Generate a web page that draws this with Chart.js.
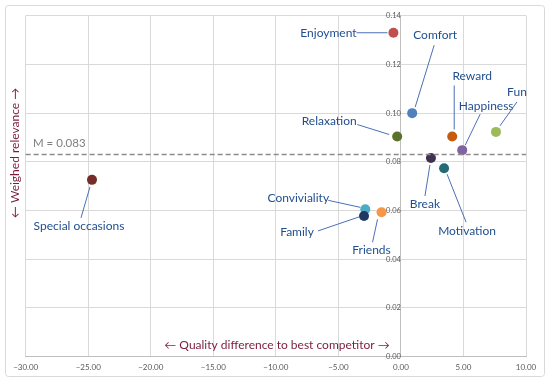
<!DOCTYPE html>
<html>
<head>
<meta charset="utf-8">
<script src="https://cdn.jsdelivr.net/npm/chart.js@4.4.1/dist/chart.umd.min.js"></script>
<style>
  html, body { margin: 0; padding: 0; background: #fff; }
  #wrap { width: 550px; height: 382px; }
</style>
</head>
<body>
<div id="wrap"><canvas id="drivers" width="550" height="382"></canvas></div>
<script>
// values
const categories = ["Enjoyment", "Comfort", "Reward", "Happiness", "Fun", "Relaxation",
  "Break", "Motivation", "Conviviality", "Family", "Friends", "Special occasions"];
const qualityDiff = [-0.6, 0.9, 4.1, 4.9, 7.6, -0.3, 2.4, 3.45, -2.85, -2.95, -1.55, -24.7];
const relevance = [0.133, 0.100, 0.0904, 0.0848, 0.0923, 0.0904, 0.0816, 0.0774, 0.0605, 0.0578, 0.0593, 0.0726];
const meanRelevance = 0.083;
const meanLabel = "M = 0.083";
const xTitle = "\u2190 Quality difference to best competitor \u2192";
const yTitle = "\u2190 Weighed relevance \u2192";

const pointColors = ["#c0504d", "#4f81bd", "#c55a11", "#8064a2", "#9bbb59", "#5a7229",
  "#403152", "#236a75", "#4bacc6", "#1f3864", "#f79646", "#772c2a"];

// label placement relative to each point: text centre, leader start, leader end (px)
const labelPos = [
  [-65, 0, -37, 0, -6, 0],
  [23, -78, 22, -68, 3, -6],
  [20, -60, 2, -51, 2, -7],
  [24, -44, 18, -36, 3, -5],
  [21, -40, 21, -30, 4, -6],
  [-68, -15, -40, -12, -8, -2],
  [-6, 46, -1, 7, -6, 38],
  [23, 63, 3, 6, 22, 54],
  [-67, -11, -37, -9, -5, -2],
  [-67, 16, -46, 15, -5, 1],
  [-10, 38, -4, 7, -9, 30],
  [-13, 46, -2, 7, -11, 38]
];

const minus = v => (v < 0 ? "\u2212" : "") + Math.abs(v).toFixed(2);

const decorations = {
  id: "decorations",
  beforeDraw(chart) {
    const ctx = chart.ctx;
    ctx.save();
    ctx.strokeStyle = "#d9d9d9";
    ctx.lineWidth = 1;
    ctx.beginPath();
    ctx.roundRect(5.5, 5.5, 539, 371, 3);
    ctx.stroke();
    ctx.restore();
  },
  afterDatasetsDraw(chart) {
    const ctx = chart.ctx;
    const area = chart.chartArea;
    const ys = chart.scales.y;
    ctx.save();

    // mean line
    const my = ys.getPixelForValue(meanRelevance);
    ctx.strokeStyle = "#8c8c8c";
    ctx.lineWidth = 1.5;
    ctx.setLineDash([5, 3]);
    ctx.beginPath();
    ctx.moveTo(area.left, my);
    ctx.lineTo(area.right, my);
    ctx.stroke();
    ctx.setLineDash([]);
    ctx.fillStyle = "#7f7f7f";
    ctx.font = "11.5px Lato";
    ctx.textAlign = "left";
    ctx.textBaseline = "middle";
    ctx.fillText(meanLabel, 33, my - 11);

    // point labels and leaders
    const meta = chart.getDatasetMeta(0);
    ctx.font = "12px Lato";
    ctx.textAlign = "center";
    meta.data.forEach((pt, i) => {
      const p = labelPos[i];
      ctx.strokeStyle = "#4a6fb5";
      ctx.lineWidth = 1;
      ctx.beginPath();
      ctx.moveTo(pt.x + p[2], pt.y + p[3]);
      ctx.lineTo(pt.x + p[4], pt.y + p[5]);
      ctx.stroke();
      ctx.fillStyle = "#1f4e8f";
      ctx.fillText(categories[i], pt.x + p[0], pt.y + p[1]);
    });

    // axis titles
    ctx.fillStyle = "#7b1c3e";
    ctx.font = "12px Lato";
    ctx.fillText(xTitle, 277, 345);
    ctx.translate(15, 153);
    ctx.rotate(-Math.PI / 2);
    ctx.fillText(yTitle, 0, 0);
    ctx.restore();
  }
};

new Chart(document.getElementById("drivers"), {
  type: "scatter",
  data: {
    datasets: [{
      data: qualityDiff.map((x, i) => ({ x, y: relevance[i] })),
      backgroundColor: pointColors,
      borderWidth: 0,
      pointRadius: 5,
      pointHoverRadius: 5
    }]
  },
  options: {
    responsive: false,
    animation: false,
    layout: { padding: { left: 25.7, right: 24, top: 15.7, bottom: 0 } },
    plugins: { legend: { display: false }, tooltip: { enabled: false } },
    scales: {
      x: {
        type: "linear",
        position: "bottom",
        min: -30, max: 10,
        ticks: { stepSize: 5, callback: minus, color: "#595959", font: { size: 8, family: "Lato" }, padding: 6, maxRotation: 0 },
        grid: { color: "#d9d9d9", tickLength: 0 },
        border: { color: "#bfbfbf" },
        afterFit(scale) { scale.height = 25.3; }
      },
      y: {
        type: "linear",
        position: { x: 0 },
        min: 0, max: 0.14,
        ticks: { stepSize: 0.02, callback: v => v.toFixed(2), color: "#595959", font: { size: 7.5, family: "Lato" }, padding: 4 },
        grid: { color: "#d9d9d9", tickLength: 3 },
        border: { color: "#bfbfbf" }
      }
    }
  },
  plugins: [decorations]
});
</script>
</body>
</html>
